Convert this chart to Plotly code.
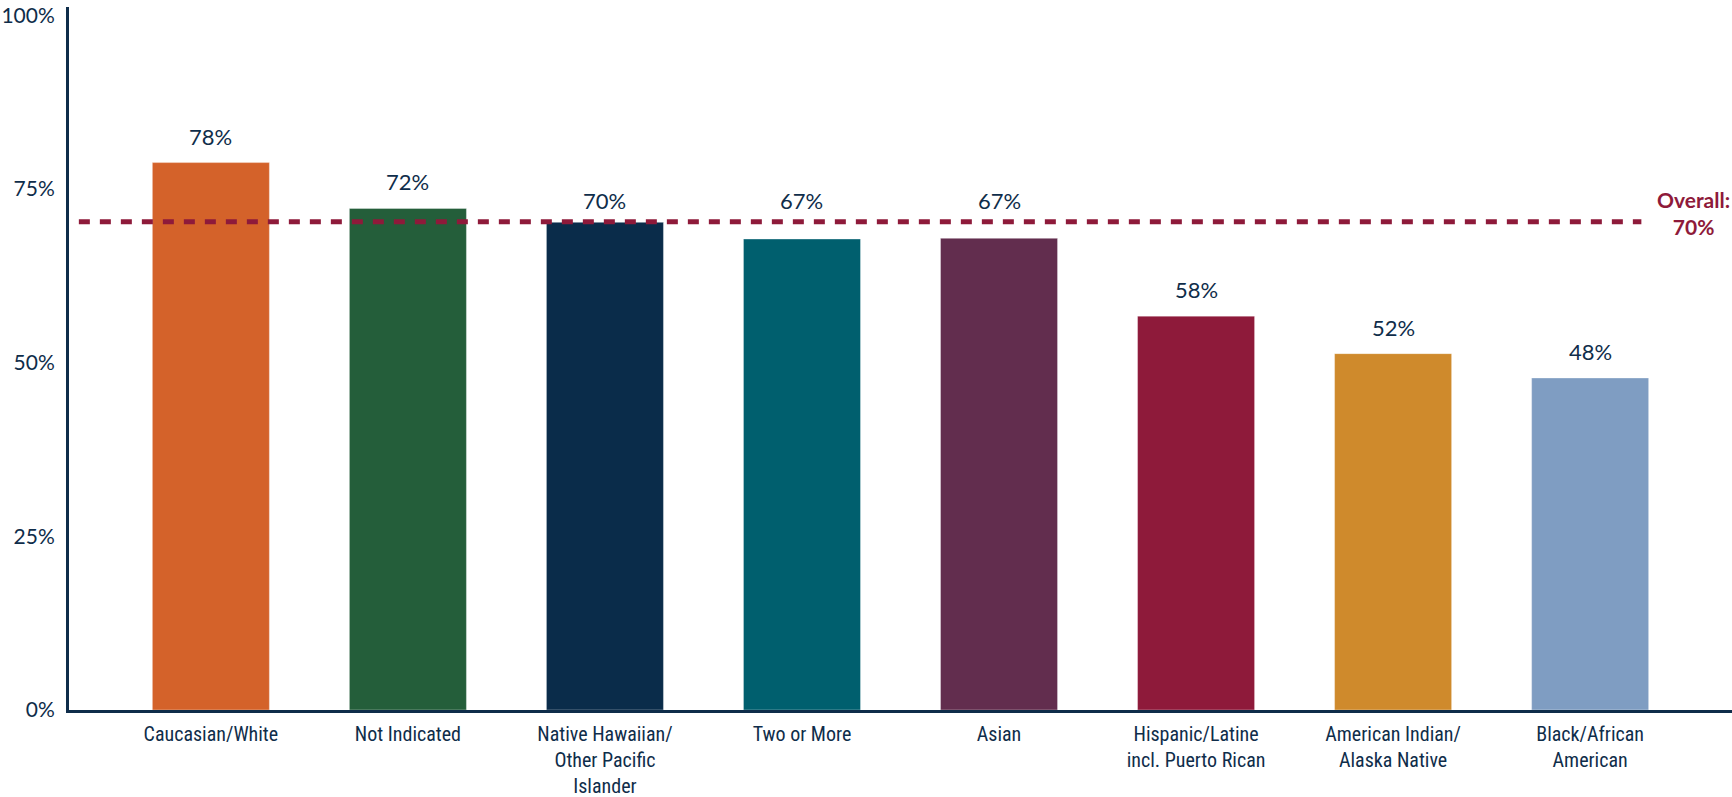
import plotly.graph_objects as go

categories = [
    "Caucasian/White",
    "Not Indicated",
    "Native Hawaiian/<br>Other Pacific<br>Islander",
    "Two or More",
    "Asian",
    "Hispanic/Latine<br>incl. Puerto Rican",
    "American Indian/<br>Alaska Native",
    "Black/African<br>American",
]
values = [78.8, 72.2, 70.2, 67.8, 67.9, 56.7, 51.3, 47.8]
value_labels = ["78%", "72%", "70%", "67%", "67%", "58%", "52%", "48%"]
bar_colors = ["#D4622A", "#245E3A", "#0A2C4A", "#005F6E",
              "#622D4E", "#8E1A3A", "#CF8A2C", "#7F9DC2"]
overall = 70.3
overall_label = "Overall:<br>70%"
y_tickvals = [0, 25, 50, 75, 100]
y_ticktext = ["0%", "25%", "50%", "75%", "100%"]

NAVY = "#0F2D4A"
CRIMSON = "#8E1A3A"
FONT = "Lato, 'Open Sans', sans-serif"
NARROW = "'Liberation Sans Narrow', 'Roboto Condensed', Lato, sans-serif"

fig = go.Figure()
fig.add_trace(go.Bar(
    x=categories,
    y=values,
    marker=dict(color=bar_colors, line=dict(color="rgba(255,255,255,0.35)", width=1)),
    width=0.594,
    hoverinfo="skip",
    showlegend=False,
))

# value labels above bars; a label that would collide with the overall line
# is lifted to sit just above it
for c, v, t in zip(categories, values, value_labels):
    if v < overall and v + 4.5 > overall:
        y_pos, shift = overall, 6
    else:
        y_pos, shift = v, 11
    fig.add_annotation(
        x=c, y=y_pos, text=t, showarrow=False, xref="x", yref="y",
        yanchor="bottom", yshift=shift,
        font=dict(family=FONT, size=22, color=NAVY),
    )

fig.add_shape(
    type="line", xref="x", yref="y",
    x0=-0.67, x1=7.26, y0=overall, y1=overall,
    line=dict(color=CRIMSON, width=5, dash="11px,10px"),
)
fig.add_annotation(
    x=1.0, xref="paper", y=overall, yref="y", yshift=9,
    text=overall_label, showarrow=False, xanchor="right", yanchor="middle",
    align="center",
    font=dict(family=FONT, size=21, color=CRIMSON, weight="bold"),
)

fig.update_layout(
    width=1732, height=797,
    margin=dict(l=69, r=0, t=7, b=87),
    plot_bgcolor="white", paper_bgcolor="white",
    bargap=0.406,
    xaxis=dict(
        range=[-0.72, 7.72], automargin=False,
        showline=True, linecolor=NAVY, linewidth=3,
        showgrid=False, zeroline=False, ticks="",
        tickfont=dict(family=NARROW, size=20, color=NAVY),
        ticklabelstandoff=4,
    ),
    yaxis=dict(
        range=[0, 101.2], automargin=False,
        tickvals=y_tickvals, ticktext=y_ticktext,
        showline=True, linecolor=NAVY, linewidth=3,
        showgrid=False, zeroline=False, ticks="",
        tickfont=dict(family=FONT, size=21, color=NAVY),
        ticklabelstandoff=7,
    ),
)

fig.write_html(
    "out.html",
    config={"displayModeBar": False},
    post_script="document.body.style.margin='0';document.body.style.overflow='hidden';",
)
